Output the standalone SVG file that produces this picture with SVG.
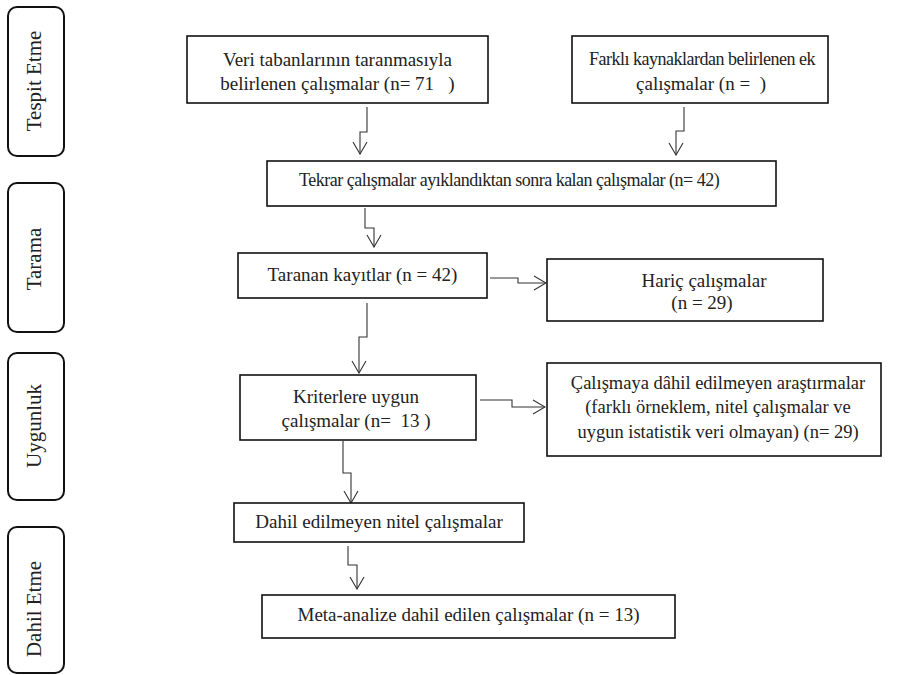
<svg xmlns="http://www.w3.org/2000/svg" width="903" height="675" viewBox="0 0 903 675">
<style>
  .box { fill: #fff; stroke: #111; stroke-width: 1.6; }
  .side { fill: #fff; stroke: #111; stroke-width: 2; }
  .boxtext { font-family: "Liberation Serif", "Times New Roman", serif; font-size: 19px; fill: #222; text-anchor: middle; }
  .tight { font-size: 18px; letter-spacing: -0.5px; }
  .sidetext { font-family: "Liberation Serif", "Times New Roman", serif; font-size: 21px; fill: #222; text-anchor: middle; }
  .conn { fill: none; stroke: #333; stroke-width: 1.1; }
</style>
<defs>
  <marker id="ah" viewBox="-14 -8 15 16" refX="0" refY="0" markerWidth="15" markerHeight="16" markerUnits="userSpaceOnUse" orient="auto">
    <path d="M-12,-7 L0,0 L-12,7" fill="none" stroke="#333" stroke-width="1.1"/>
  </marker>
</defs>
<rect width="903" height="675" fill="#fff"/>

<g id="side-tespit">
  <rect class="side" x="8" y="7" width="56" height="149" rx="9"/>
  <text class="sidetext" transform="translate(41,81) rotate(-90)">Tespit Etme</text>
</g>
<g id="side-tarama">
  <rect class="side" x="8" y="183" width="56" height="149" rx="9"/>
  <text class="sidetext" transform="translate(41,259) rotate(-90)">Tarama</text>
</g>
<g id="side-uygunluk">
  <rect class="side" x="8" y="353" width="56" height="147" rx="9"/>
  <text class="sidetext" transform="translate(41,426) rotate(-90)">Uygunluk</text>
</g>
<g id="side-dahil">
  <rect class="side" x="8" y="527" width="56" height="146" rx="9"/>
  <text class="sidetext" transform="translate(41,609) rotate(-90)">Dahil Etme</text>
</g>

<g id="connectors">
  <path class="conn" d="M367,107 V132 H360 V154" marker-end="url(#ah)"/>
  <path class="conn" d="M684,107 V131 H676 V155" marker-end="url(#ah)"/>
  <path class="conn" d="M365,208 V228 H374 V247" marker-end="url(#ah)"/>
  <path class="conn" d="M490,278 H518 V283 H546" marker-end="url(#ah)"/>
  <path class="conn" d="M367,303 V337 H359 V373" marker-end="url(#ah)"/>
  <path class="conn" d="M480,400 H512 V407 H545" marker-end="url(#ah)"/>
  <path class="conn" d="M343,441 V473 H351 V503" marker-end="url(#ah)"/>
  <path class="conn" d="M348,546 V565 H357 V589" marker-end="url(#ah)"/>
</g>

<g id="n1">
  <rect class="box" x="187" y="36" width="301" height="67"/>
  <text class="boxtext" x="337.5" y="66">Veri tabanlarının taranmasıyla</text>
  <text class="boxtext" x="337.5" y="90" xml:space="preserve">belirlenen çalışmalar (n= 71   )</text>
</g>
<g id="n2">
  <rect class="box" x="572" y="36" width="256" height="67"/>
  <text class="boxtext tight" x="702" y="65">Farklı kaynaklardan belirlenen ek</text>
  <text class="boxtext" x="701" y="90" xml:space="preserve">çalışmalar (n =  )</text>
</g>
<g id="n3">
  <rect class="box" x="267" y="161" width="509" height="45"/>
  <text class="boxtext tight" x="299" y="186" style="text-anchor:start">Tekrar çalışmalar ayıklandıktan sonra kalan çalışmalar (n= 42)</text>
</g>
<g id="n4">
  <rect class="box" x="238" y="253" width="249" height="45"/>
  <text class="boxtext" x="362.5" y="281">Taranan kayıtlar (n = 42)</text>
</g>
<g id="n5">
  <rect class="box" x="547" y="259" width="276" height="62"/>
  <text class="boxtext" x="704" y="287">Hariç çalışmalar</text>
  <text class="boxtext" x="702" y="309">(n = 29)</text>
</g>
<g id="n6">
  <rect class="box" x="240" y="375" width="236" height="65"/>
  <text class="boxtext" x="356" y="403">Kriterlere uygun</text>
  <text class="boxtext" x="356" y="427" xml:space="preserve">çalışmalar (n=  13 )</text>
</g>
<g id="n7">
  <rect class="box" x="547" y="363" width="334" height="93"/>
  <text class="boxtext" x="718" y="389" style="font-size:18.5px">Çalışmaya dâhil edilmeyen araştırmalar</text>
  <text class="boxtext" x="718" y="413" style="font-size:18.5px">(farklı örneklem, nitel çalışmalar ve</text>
  <text class="boxtext" x="718" y="438" style="font-size:18.5px">uygun istatistik veri olmayan) (n= 29)</text>
</g>
<g id="n8">
  <rect class="box" x="234" y="503" width="290" height="39"/>
  <text class="boxtext" x="379" y="528">Dahil edilmeyen nitel çalışmalar</text>
</g>
<g id="n9">
  <rect class="box" x="262" y="595" width="413" height="43"/>
  <text class="boxtext" x="468.5" y="621">Meta-analize dahil edilen çalışmalar (n = 13)</text>
</g>
</svg>
